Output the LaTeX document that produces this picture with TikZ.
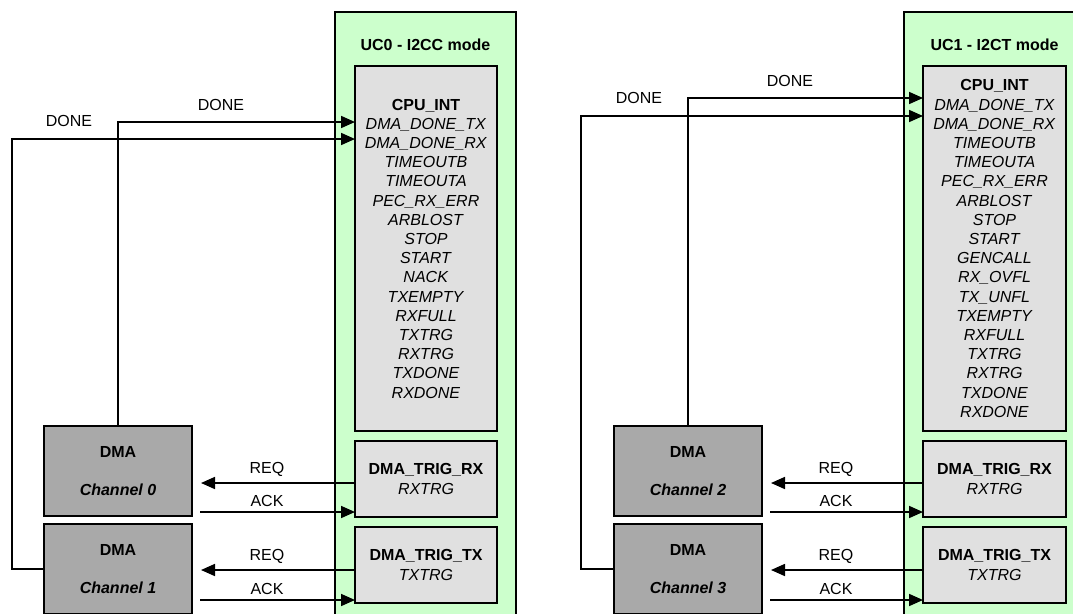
\documentclass[tikz,border=0pt]{standalone}
\usepackage{fontspec}
\setmainfont{Liberation Sans}
\usetikzlibrary{arrows.meta}
\definecolor{ucgreen}{HTML}{CCFFCC}
\definecolor{boxgray}{HTML}{E0E0E0}
\definecolor{dmagray}{HTML}{A9A9A9}
\begin{document}
\begin{tikzpicture}[x=1pt,y=1pt,
  every node/.style={outer sep=0pt},
  ucbox/.style={draw=black, line width=2pt, fill=ucgreen, anchor=north west, minimum width=181pt, minimum height=650pt, inner sep=0pt},
  cpubox/.style={draw=black, line width=2pt, fill=boxgray, anchor=north west, minimum width=142pt, minimum height=365pt, inner sep=0pt, align=center, font={\fontsize{16pt}{19.2pt}\selectfont}},
  trigbox/.style={draw=black, line width=2pt, fill=boxgray, anchor=north west, minimum width=142pt, minimum height=76pt, inner sep=0pt, align=center, font={\fontsize{16pt}{20pt}\selectfont}},
  dmabox/.style={draw=black, line width=2pt, fill=dmagray, anchor=north west, minimum width=148pt, minimum height=90pt, inner sep=0pt, align=center, font={\fontsize{16pt}{19.2pt}\selectfont\bfseries}},
  lbl/.style={font={\fontsize{16pt}{19.2pt}\selectfont}, inner sep=0pt, text height=11.5pt, text depth=0pt},
  ttl/.style={font={\fontsize{16pt}{19.2pt}\selectfont\bfseries}, inner sep=0pt, text height=11.5pt, text depth=0pt},
  arr/.style={line width=1.7pt, -{Triangle[length=14pt,width=12pt]}}
]
\useasboundingbox (0,0) rectangle (1073,-613);
\clip (0,0) rectangle (1073,-613);

% ---------------- left half ----------------
\node[ucbox] (uc0) at (335,-12) {};
\node[ttl] (t0) at (425.5,-45) {UC0 - I2CC mode};
\node[cpubox] (cpu0) at (355,-66) {\textbf{CPU\_INT}\\ \textit{DMA\_DONE\_TX}\\ \textit{DMA\_DONE\_RX}\\ \textit{TIMEOUTB}\\ \textit{TIMEOUTA}\\ \textit{PEC\_RX\_ERR}\\ \textit{ARBLOST}\\ \textit{STOP}\\ \textit{START}\\ \textit{NACK}\\ \textit{TXEMPTY}\\ \textit{RXFULL}\\ \textit{TXTRG}\\ \textit{RXTRG}\\ \textit{TXDONE}\\ \textit{RXDONE}};
\node[trigbox] (trigrx0) at (355,-441) {\textbf{DMA\_TRIG\_RX}\\ \textit{RXTRG}};
\node[trigbox] (trigtx0) at (355,-527) {\textbf{DMA\_TRIG\_TX}\\ \textit{TXTRG}};
\node[dmabox] (ch0) at (44,-426) {DMA\\[19.5pt] \itshape Channel 0};
\node[dmabox] (ch1) at (44,-524) {DMA\\[19.5pt] \itshape Channel 1};

\draw[arr] (ch0.north) |- ([yshift=-56pt]cpu0.north west);
\draw[arr] (ch1.west) -- ++(-32,0) |- ([yshift=-73pt]cpu0.north west);
\node[lbl] (done0) at (221,-105) {DONE};
\node[lbl] (done1) at (69,-121) {DONE};

\coordinate (rq0) at (201,-483);
\coordinate (ak0) at (200,-512);
\coordinate (rq1) at (201,-570);
\coordinate (ak1) at (200,-600);
\draw[arr] (trigrx0.west |- rq0) -- (rq0);
\draw[arr] (ak0) -- (ak0 -| trigrx0.west);
\draw[arr] (trigtx0.west |- rq1) -- (rq1);
\draw[arr] (ak1) -- (ak1 -| trigtx0.west);
\node[lbl] (lreq0) at (267,-468) {REQ};
\node[lbl] (lack0) at (267,-501) {ACK};
\node[lbl] (lreq1) at (267,-555) {REQ};
\node[lbl] (lack1) at (267,-589) {ACK};

% ---------------- right half ----------------
\node[ucbox] (uc1) at (904,-12) {};
\node[ttl] (t1) at (994.5,-45) {UC1 - I2CT mode};
\node[cpubox, minimum width=143pt] (cpu1) at (923,-66) {\textbf{CPU\_INT}\\ \textit{DMA\_DONE\_TX}\\ \textit{DMA\_DONE\_RX}\\ \textit{TIMEOUTB}\\ \textit{TIMEOUTA}\\ \textit{PEC\_RX\_ERR}\\ \textit{ARBLOST}\\ \textit{STOP}\\ \textit{START}\\ \textit{GENCALL}\\ \textit{RX\_OVFL}\\ \textit{TX\_UNFL}\\ \textit{TXEMPTY}\\ \textit{RXFULL}\\ \textit{TXTRG}\\ \textit{RXTRG}\\ \textit{TXDONE}\\ \textit{RXDONE}};
\node[trigbox, minimum width=143pt] (trigrx1) at (923,-441) {\textbf{DMA\_TRIG\_RX}\\ \textit{RXTRG}};
\node[trigbox, minimum width=143pt] (trigtx1) at (923,-527) {\textbf{DMA\_TRIG\_TX}\\ \textit{TXTRG}};
\node[dmabox] (ch2) at (614,-426) {DMA\\[19.5pt] \itshape Channel 2};
\node[dmabox] (ch3) at (614,-524) {DMA\\[19.5pt] \itshape Channel 3};

\draw[arr] (ch2.north) |- ([yshift=-32pt]cpu1.north west);
\draw[arr] (ch3.west) -- ++(-33,0) |- ([yshift=-50pt]cpu1.north west);
\node[lbl] (done2) at (790,-81) {DONE};
\node[lbl] (done3) at (639,-98) {DONE};

\coordinate (rq2) at (771,-483);
\coordinate (ak2) at (770,-512);
\coordinate (rq3) at (771,-570);
\coordinate (ak3) at (770,-600);
\draw[arr] (trigrx1.west |- rq2) -- (rq2);
\draw[arr] (ak2) -- (ak2 -| trigrx1.west);
\draw[arr] (trigtx1.west |- rq3) -- (rq3);
\draw[arr] (ak3) -- (ak3 -| trigtx1.west);
\node[lbl] (lreq2) at (836,-468) {REQ};
\node[lbl] (lack2) at (836,-501) {ACK};
\node[lbl] (lreq3) at (836,-555) {REQ};
\node[lbl] (lack3) at (836,-589) {ACK};
\end{tikzpicture}
\end{document}
